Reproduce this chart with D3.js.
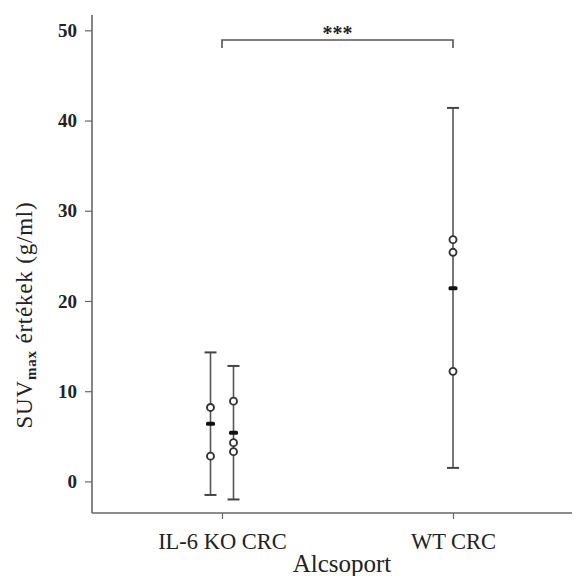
<!DOCTYPE html>
<html>
<head>
<meta charset="utf-8">
<script src="https://cdn.jsdelivr.net/npm/d3@7"></script>
<style>
  body { margin: 0; background: #fff; }
  text { font-family: "Liberation Serif", "DejaVu Serif", serif; fill: #222; }
</style>
</head>
<body>
<svg id="chart" width="576" height="576"></svg>
<script>
// categories and values
const groups = ['IL-6 KO CRC', 'WT CRC'];
const barGroup = ['IL-6 KO CRC', 'IL-6 KO CRC', 'WT CRC'];
const barSlot = [0, 1, 0];
const means = [6.4, 5.4, 21.4];
const upper = [14.3, 12.8, 41.4];
const lower = [-1.5, -2.0, 1.5];
const points = [[8.2, 2.8], [8.9, 4.3, 3.3], [26.8, 25.4, 12.2]];
const yTicks = [0, 10, 20, 30, 40, 50];
const sigLabel = '***';

const svg = d3.select('#chart');
const m = { left: 92, bottom: 513, top: 15, right: 572 };

const y = d3.scaleLinear().domain([-3.5, 51.7]).range([m.bottom, m.top]);
const x = d3.scalePoint().domain(groups).range([222, 453]);

const bars = barGroup.map((g, i) => ({
  group: g, slot: barSlot[i], mean: means[i], hi: upper[i], lo: lower[i], pts: points[i]
}));
const slotScale = g => {
  const n = barGroup.filter(d => d === g).length;
  return d3.scaleBand().domain(d3.range(n)).range([-11.5 * n, 11.5 * n]);
};
const bx = d => x(d.group) + slotScale(d.group)(d.slot) + slotScale(d.group).bandwidth() / 2;

// axes
const yAxis = svg.append('g')
    .attr('transform', `translate(${m.left},0)`)
    .call(d3.axisLeft(y).tickValues(yTicks).tickSize(7).tickPadding(8));
yAxis.select('.domain').attr('d', `M0,${m.top}V${m.bottom}`);
const xAxis = svg.append('g')
    .attr('transform', `translate(0,${m.bottom})`)
    .call(d3.axisBottom(x).tickSize(6).tickPadding(14));
xAxis.select('.domain').attr('d', `M${m.left},0H${m.right}`);

svg.selectAll('.domain').attr('stroke', '#666').attr('stroke-width', 1.6);
svg.selectAll('.tick line').attr('stroke', '#666').attr('stroke-width', 1.2);
yAxis.selectAll('.tick text')
    .style('font-size', '19px').style('font-weight', 'bold').attr('fill', '#333');
xAxis.selectAll('.tick text')
    .style('font-size', '22.5px').attr('fill', '#222');

// error bars
const g = svg.append('g');
const capW = 12;
g.selectAll('.bar').data(bars).enter().append('line')
    .attr('x1', bx).attr('x2', bx)
    .attr('y1', d => y(d.hi)).attr('y2', d => y(d.lo))
    .attr('stroke', '#555').attr('stroke-width', 1.6);
['hi', 'lo'].forEach(k => {
  g.selectAll('.cap-' + k).data(bars).enter().append('line')
      .attr('x1', d => bx(d) - capW / 2).attr('x2', d => bx(d) + capW / 2)
      .attr('y1', d => y(d[k])).attr('y2', d => y(d[k]))
      .attr('stroke', '#444').attr('stroke-width', 2);
});
g.selectAll('.mean').data(bars).enter().append('rect')
    .attr('x', d => bx(d) - 4.5).attr('y', d => y(d.mean) - 2)
    .attr('width', 9).attr('height', 4).attr('rx', 1.5)
    .attr('fill', '#111');
bars.forEach(b => {
  g.selectAll(null).data(b.pts).enter().append('circle')
      .attr('cx', bx(b)).attr('cy', v => y(v)).attr('r', 3.5)
      .attr('fill', '#fff').attr('stroke', '#333').attr('stroke-width', 1.9);
});

// significance bracket
const sy = 40;
svg.append('path')
    .attr('d', `M${x(groups[0])},${sy + 8}V${sy}H${x(groups[1])}V${sy + 8}`)
    .attr('fill', 'none').attr('stroke', '#555').attr('stroke-width', 1.6);
svg.append('text')
    .attr('x', (x(groups[0]) + x(groups[1])) / 2).attr('y', sy)
    .attr('text-anchor', 'middle')
    .style('font-size', '20px').style('font-weight', 'bold')
    .text(sigLabel);

// axis titles
svg.append('text')
    .attr('x', 342).attr('y', 572)
    .attr('text-anchor', 'middle')
    .style('font-size', '25px')
    .text('Alcsoport');
const yl = svg.append('text')
    .attr('transform', 'translate(32,315) rotate(-90)')
    .attr('text-anchor', 'middle')
    .style('font-size', '23px')
    .style('letter-spacing', '0.8px');
yl.append('tspan').text('SUV');
yl.append('tspan').attr('dy', 4).style('font-size', '15px').style('font-weight', 'bold').text('max');
yl.append('tspan').attr('dy', -4).text(' értékek (g/ml)');
</script>
</body>
</html>
